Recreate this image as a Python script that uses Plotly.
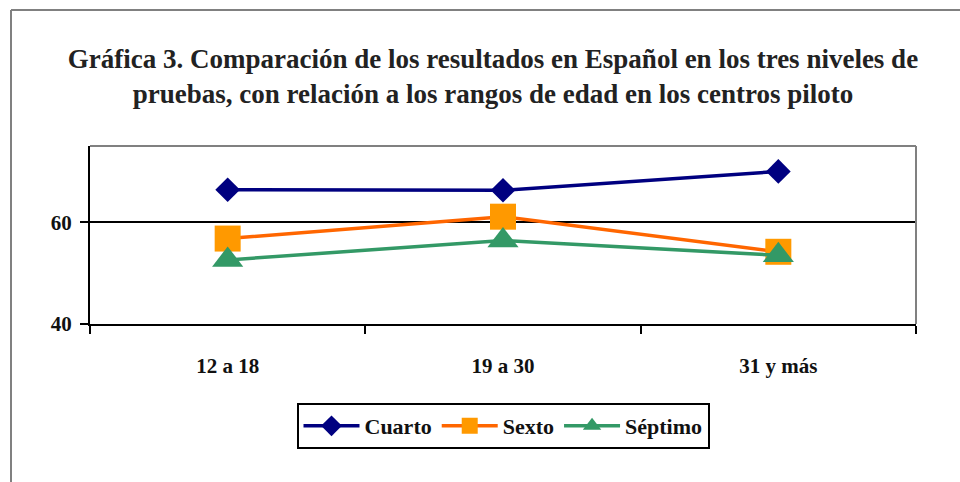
import plotly.graph_objects as go

categories = ["12 a 18", "19 a 30", "31 y más"]
cuarto = [66.4, 66.3, 70.0]
sexto = [56.8, 61.1, 54.2]
septimo = [52.6, 56.4, 53.5]
y_ticks = [40, 60]

FONT = "Liberation Serif"
L, R, T, B = 90, 44, 146, 158
W, H = 960, 482
pw, ph = W - L - R, H - T - B

def px_x(X):
    return (X - L) / pw

def px_y(Y):
    return (H - B - Y) / ph

fig = go.Figure()
fig.add_trace(go.Scatter(
    x=categories, y=cuarto, name="Cuarto", mode="lines+markers",
    line=dict(color="#000080", width=3.5),
    marker=dict(symbol="diamond", size=19, color="#000080")))
fig.add_trace(go.Scatter(
    x=categories, y=sexto, name="Sexto", mode="lines+markers",
    line=dict(color="#FF6600", width=3.5),
    marker=dict(symbol="square", size=26, color="#FF9900")))
fig.add_trace(go.Scatter(
    x=categories, y=septimo, name="Séptimo", mode="lines+markers",
    line=dict(color="#339966", width=3.5),
    marker=dict(symbol="triangle-up", size=27, color="#339966")))

fig.update_layout(
    width=W, height=H,
    margin=dict(l=L, r=R, t=T, b=B),
    paper_bgcolor="white", plot_bgcolor="white",
    font=dict(family=FONT, color="#111111"),
    title=dict(
        text="<b>Gráfica 3. Comparación de los resultados en Español en los tres niveles de<br>pruebas, con relación a los rangos de edad en los centros piloto</b>",
        x=493 / W, xanchor="center", y=1 - 68 / H, yanchor="middle",
        font=dict(family=FONT, size=27, color="#222222")),
    showlegend=True,
    legend=dict(
        orientation="h", x=px_x(503), xanchor="center", y=px_y(403), yanchor="top",
        bordercolor="black", borderwidth=2, bgcolor="white",
        font=dict(family=FONT, size=22, color="#111111", weight="bold"),
        itemwidth=56, tracegroupgap=0),
    xaxis=dict(
        type="category", range=[-0.5, 2.5], tickson="boundaries",
        showline=True, linecolor="black", linewidth=2,
        ticks="outside", ticklen=8, tickwidth=2, tickcolor="black",
        showgrid=False, zeroline=False, mirror=False,
        tickfont=dict(family=FONT, size=21, color="#111111", weight="bold"),
        ticklabelstandoff=22),
    yaxis=dict(
        range=[40, 75], tickvals=y_ticks,
        showline=True, linecolor="black", linewidth=2,
        ticks="outside", ticklen=8, tickwidth=2, tickcolor="black",
        showgrid=True, gridcolor="black", gridwidth=2, zeroline=False,
        tickfont=dict(family=FONT, size=21, color="#111111", weight="bold"),
        ticklabelstandoff=4),
    shapes=[
        dict(type="line", xref="paper", yref="paper", x0=0, x1=1, y0=1, y1=1,
             line=dict(color="#808080", width=2)),
        dict(type="line", xref="paper", yref="paper", x0=1, x1=1, y0=0, y1=1,
             line=dict(color="#808080", width=2)),
        dict(type="line", xref="paper", yref="paper", x0=px_x(11), x1=px_x(970),
             y0=px_y(10), y1=px_y(10), line=dict(color="#808080", width=2)),
        dict(type="line", xref="paper", yref="paper", x0=px_x(11), x1=px_x(11),
             y0=px_y(10), y1=px_y(490), line=dict(color="#808080", width=2)),
    ],
)

fig.write_html("out.html", config={"displayModeBar": False},
               post_script="document.body.style.margin='0';")
